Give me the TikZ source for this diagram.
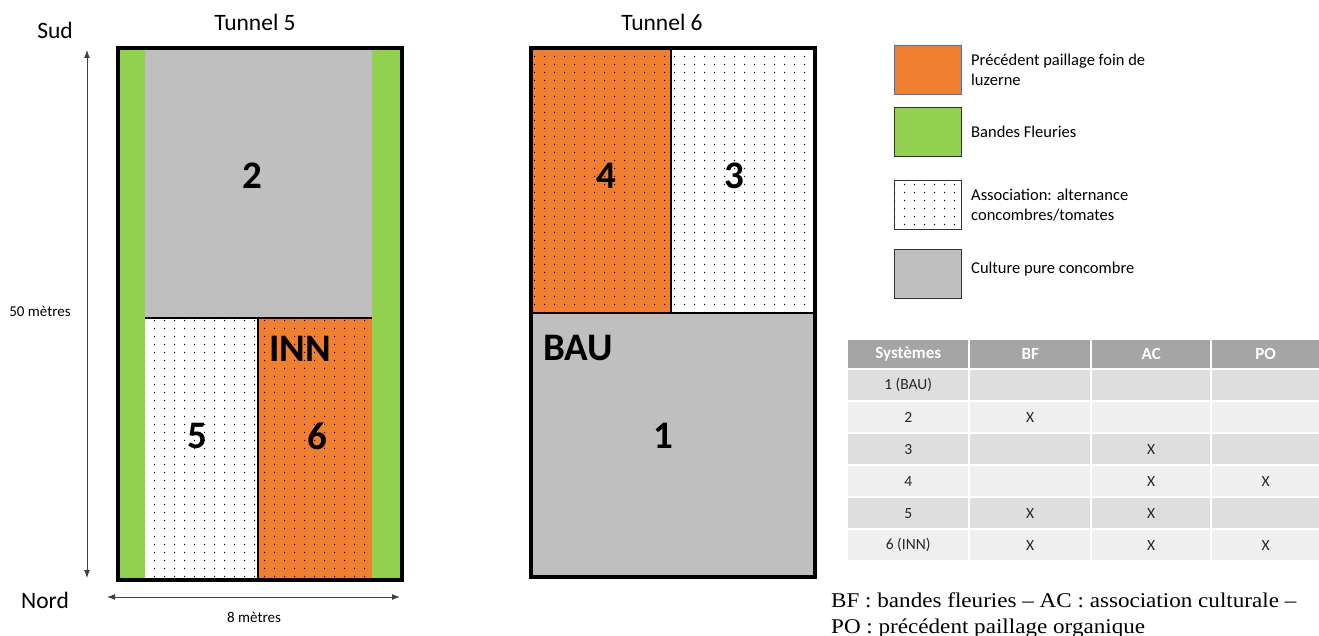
\documentclass[tikz,border=0pt]{standalone}
\usepackage{fontspec}
\setmainfont{Carlito}
\newfontfamily\notefont[FakeStretch=1.1]{Liberation Serif}
\usetikzlibrary{patterns.meta,matrix,arrows.meta,positioning}
\definecolor{paillage}{HTML}{F07F2F}
\definecolor{bande}{HTML}{92D050}
\definecolor{pure}{HTML}{BFBFBF}
\definecolor{hdrgray}{HTML}{A5A5A5}
\definecolor{rowdark}{HTML}{DEDEDE}
\definecolor{rowlight}{HTML}{EFEFEF}
\definecolor{legblue}{HTML}{4472C4}
\definecolor{arrowgray}{HTML}{404040}
\newcommand{\bigfont}{\fontsize{39}{41}\selectfont\bfseries}
\tikzdeclarepattern{name=sowdots, type=uncolored,
  bottom left={(0pt,0pt)}, top right={(10pt,8pt)}, tile size={(10pt,8pt)},
  code={\fill (5pt,4pt) circle (0.8pt);}}

\begin{document}
\begin{tikzpicture}[x=1pt,y=-1pt,
    plot_base/.style ={rectangle, draw=none, inner sep=0pt, anchor=north west},
    plot_pure/.style ={plot_base, fill=pure},
    plot_strip/.style ={plot_base, fill=bande},
    plot_assoc/.style ={plot_base, fill=white, pattern={sowdots}, pattern color=black},
    plot_pail/.style ={plot_base, preaction={fill=paillage}, pattern={sowdots}, pattern color=black},
    plot_label/.style ={font=\bigfont, inner sep=0pt},
    tunnel_box/.style ={rectangle, draw=black, line width=4pt, inner sep=0pt, anchor=north west},
    divider/.style ={draw=black, line width=2pt},
    title/.style ={font=\fontsize{23.5}{26}\selectfont},
    dim_arrow/.style ={draw=arrowgray, line width=1pt, {Latex[length=8pt,width=6pt]}-{Latex[length=8pt,width=6pt]}},
    dim_label/.style ={font=\fontsize{15}{17}\selectfont},
    leg_box/.style ={rectangle, line width=1pt, minimum width=67pt, minimum height=49pt, inner sep=0pt, anchor=north west},
    leg_text/.style ={font=\fontsize{16.5}{20}\selectfont, align=left, inner sep=0pt, anchor=west}]
    \useasboundingbox (0,0) rectangle (1319,636);

    % tunnel 5
    \node [plot_strip, minimum width=29pt, minimum height=532pt] (bfleft) at (116,46) {};
    \node [plot_strip, minimum width=28pt, minimum height=532pt] (bfright) at (372,46) {};
    \node [plot_pure, minimum width=227pt, minimum height=272pt] (p2) at (145,46) {};
    \node [plot_assoc, minimum width=113pt, minimum height=260pt] (p5) at (145,318) {};
    \node [plot_pail, minimum width=114pt, minimum height=260pt] (p6) at (258,318) {};
    \path [divider] (p2.south west) -- (p2.south east);
    \path [divider] (p5.north east) -- (p5.south east);
    \node [tunnel_box, minimum width=284pt, minimum height=532pt] (t5) at (116,46) {};
    \node [plot_label] (l2) at (252,176) {2};
    \node [plot_label] (l5) at (197,436) {5};
    \node [plot_label] (l6) at (317,436) {6};
    \node [plot_label] (inn) at (300,349) {INN};
    \node [title] (t5title) at (255,22) {Tunnel 5};

    % orientation and dimensions
    \node [title] (sud) at (55,30) {Sud};
    \node [title] (nord) at (45,600) {Nord};
    \coordinate (nordtip) at (87,578);
    \coordinate (sudtip) at (87,50);
    \path [dim_arrow] (nordtip) -- (sudtip);
    \node [dim_label] (long) at (40,311) {50 mètres};
    \coordinate (westtip) at (107,597);
    \coordinate (esttip) at (400,597);
    \path [dim_arrow] (westtip) -- (esttip);
    \node [dim_label] (larg) at (254,617) {8 mètres};

    % tunnel 6
    \node [plot_pail, minimum width=142pt, minimum height=267pt] (p4) at (529,46) {};
    \node [plot_assoc, minimum width=142pt, minimum height=267pt] (p3) at (671,46) {};
    \node [plot_pure, minimum width=284pt, minimum height=262pt] (p1) at (529,313) {};
    \path [divider] (p4.north east) -- (p4.south east);
    \path [divider] (p1.north west) -- (p1.north east);
    \node [tunnel_box, minimum width=284pt, minimum height=529pt] (t6) at (529,46) {};
    \node [plot_label] (l4) at (606,176) {4};
    \node [plot_label] (l3) at (734,176) {3};
    \node [plot_label] (l1) at (663,436) {1};
    \node [plot_label] (bau) at (578,348) {BAU};
    \node [title] (t6title) at (662,22) {Tunnel 6};

    % legend
    \node [leg_box, fill=paillage, draw=legblue] (lg_pail) at (894,45) {};
    \node [leg_box, fill=bande, draw=black!80] (lg_bande) at (894,107) {};
    \node [leg_box, fill=white, pattern={sowdots}, pattern color=black, draw=black!80] (lg_assoc) at (894,180) {};
    \node [leg_box, fill=pure, draw=black!80] (lg_pure) at (894,249) {};
    \node [leg_text, right=9pt of lg_pail] (lt_pail) {Précédent paillage foin de\\luzerne};
    \node [leg_text, right=9pt of lg_bande] (lt_bande) {Bandes Fleuries};
    \node [leg_text, right=9pt of lg_assoc] (lt_assoc) {Association: alternance\\concombres/tomates};
    \node [leg_text, right=9pt of lg_pure, yshift=5pt] (lt_pure) {Culture pure concombre};

    % table of systems
    \matrix (systab) [matrix of nodes, nodes in empty cells, anchor=north west,
      inner sep=0pt, column sep=2pt, row sep=2pt,
      nodes={rectangle, anchor=center, inner sep=0pt, minimum height=30pt, text=black!85,
        font=\fontsize{15.5}{17}\selectfont},
      column 1/.style={nodes={minimum width=120pt}},
      column 2/.style={nodes={minimum width=120pt}},
      column 3/.style={nodes={minimum width=118pt}},
      column 4/.style={nodes={minimum width=107pt}},
      row 1/.style={nodes={fill=hdrgray, text=white, minimum height=28pt,
        font=\fontsize{17}{18}\selectfont\bfseries}},
      row 2/.style={nodes={fill=rowdark}},
      row 3/.style={nodes={fill=rowlight}},
      row 4/.style={nodes={fill=rowdark}},
      row 5/.style={nodes={fill=rowlight}},
      row 6/.style={nodes={fill=rowdark}},
      row 7/.style={nodes={fill=rowlight}}] at (848,340) {
      Systèmes & BF & AC & PO \\
      1 (BAU) &   &   &   \\
      2       & X &   &   \\
      3       &   & X &   \\
      4       &   & X & X \\
      5       & X & X &   \\
      6 (INN) & X & X & X \\
    };% end matrix

    % footnote
    \node [anchor=north west, align=left, inner sep=0pt,
      font=\notefont\fontsize{21}{26}\selectfont] (note) at (831,593)
      {BF : bandes fleuries – AC : association culturale –\\PO : précédent paillage organique};
\end{tikzpicture}
\end{document}
